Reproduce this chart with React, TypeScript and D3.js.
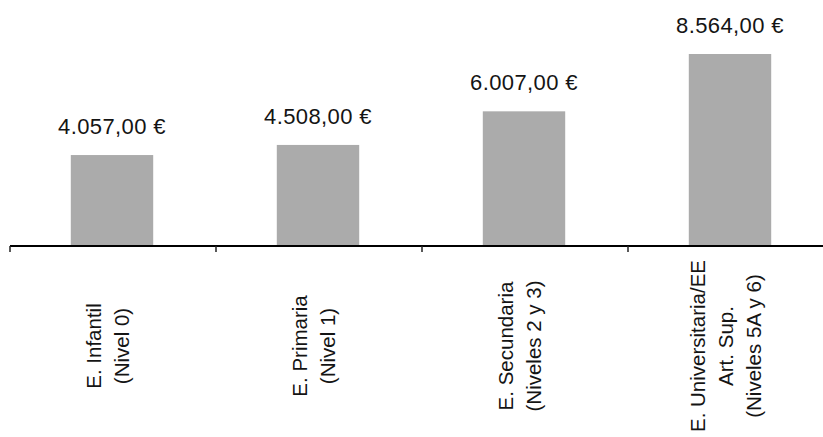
import React from "react";
import * as d3 from "d3";

// Average spending per student by education level
const categories = ["infantil", "primaria", "secundaria", "universitaria"];
const values = [4057, 4508, 6007, 8564];
const valueLabels = ["4.057,00 €", "4.508,00 €", "6.007,00 €", "8.564,00 €"];
const categoryLines = [
  ["E. Infantil", "(Nivel 0)"],
  ["E. Primaria", "(Nivel 1)"],
  ["E. Secundaria", "(Niveles 2 y 3)"],
  ["E. Universitaria/EE", "Art. Sup.", "(Niveles 5A y 6)"],
];

const W = 823;
const H = 437;
const FONT = "'Liberation Sans', Arial, Helvetica, sans-serif";

export default function App() {
  const x = d3.scaleBand<string>().domain(categories).range([9, 833]).padding(0);
  const y = d3.scaleLinear().domain([0, d3.max(values) as number]).range([246, 54]);
  const bw = x.bandwidth();
  const barW = bw * 0.4;
  const baseY = y(0);
  const lineGap = 28;
  const labelCenterY = 346;

  return (
    <svg
      width={W}
      height={H}
      style={{ position: "absolute", left: 0, top: 0, background: "#fff" }}
      fontFamily={FONT}
    >
      <rect x={0} y={0} width={W} height={H} fill="#fff" />
      {categories.map((c, i) => {
        const cx = (x(c) as number) + bw / 2;
        return (
          <g key={c}>
            <rect
              x={cx - barW / 2}
              y={y(values[i])}
              width={barW}
              height={baseY - y(values[i])}
              fill="#ababab"
            />
            <text
              x={cx}
              y={y(values[i]) - 21}
              textAnchor="middle"
              fontSize={22}
              letterSpacing={0.4}
              fill="#141414"
            >
              {valueLabels[i]}
            </text>
            <text
              transform={`translate(${cx},${labelCenterY}) rotate(-90)`}
              textAnchor="middle"
              fontSize={20.5}
              fill="#141414"
            >
              {categoryLines[i].map((line, j) => (
                <tspan
                  key={j}
                  x={0}
                  y={(j - (categoryLines[i].length - 1) / 2) * lineGap + 3}
                >
                  {line}
                </tspan>
              ))}
            </text>
          </g>
        );
      })}
      {/* category axis with ticks at band boundaries */}
      <line x1={10} x2={W} y1={baseY} y2={baseY} stroke="#000" strokeWidth={2} />
      {categories.map((c) => (
        <line
          key={"t" + c}
          x1={(x(c) as number) + 1}
          x2={(x(c) as number) + 1}
          y1={baseY}
          y2={baseY + 6}
          stroke="#222"
          strokeWidth={1.5}
        />
      ))}
    </svg>
  );
}
